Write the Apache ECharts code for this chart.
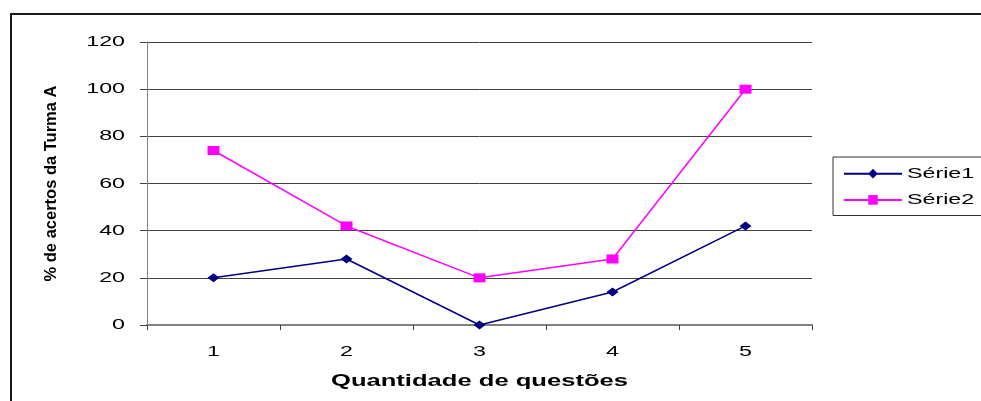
<!DOCTYPE html>
<html>
<head>
<meta charset="utf-8">
<title>% de acertos da Turma A</title>
<script src="https://cdn.jsdelivr.net/npm/echarts@6/dist/echarts.min.js"></script>
<style>
  html, body { margin: 0; padding: 0; background: #fff; }
  #chart { width: 981px; height: 401px; }
</style>
</head>
<body>
<div id="chart"></div>
<script>
// Data
const categories = ['1', '2', '3', '4', '5'];
const serie1 = [20, 28, 0, 14, 42];
const serie2 = [74, 42, 20, 28, 100];
const seriesNames = ['Série1', 'Série2'];
const yMin = 0, yMax = 120, yStep = 20;
const xTitle = 'Quantidade de questões';
const yTitle = '% de acertos da Turma A';

// Horizontal text is drawn in a widened face: glyphs are stretched along x
// around their anchor point, so left/centre/right alignment is preserved.
const TEXT_STRETCH = 1.55;
(function () {
  const proto = CanvasRenderingContext2D.prototype;
  const fill = proto.fillText;
  const measure = proto.measureText;
  proto.fillText = function (text, x, y, maxWidth) {
    const m = this.getTransform();
    if (Math.abs(m.b) > 1e-6 || Math.abs(m.c) > 1e-6) {
      return maxWidth === undefined ? fill.call(this, text, x, y) : fill.call(this, text, x, y, maxWidth);
    }
    this.save();
    this.translate(x, y);
    this.scale(TEXT_STRETCH, 1);
    fill.call(this, text, 0, 0);
    this.restore();
  };
  proto.measureText = function (text) {
    const r = measure.call(this, text);
    return {
      width: r.width * TEXT_STRETCH,
      actualBoundingBoxLeft: r.actualBoundingBoxLeft * TEXT_STRETCH,
      actualBoundingBoxRight: r.actualBoundingBoxRight * TEXT_STRETCH,
      actualBoundingBoxAscent: r.actualBoundingBoxAscent,
      actualBoundingBoxDescent: r.actualBoundingBoxDescent,
      fontBoundingBoxAscent: r.fontBoundingBoxAscent,
      fontBoundingBoxDescent: r.fontBoundingBoxDescent
    };
  };
})();

const FONT = '"Liberation Sans", Arial, sans-serif';
const chart = echarts.init(document.getElementById('chart'), null, { renderer: 'canvas' });

chart.setOption({
  backgroundColor: '#ffffff',
  animation: false,
  textStyle: { fontFamily: FONT, color: '#000' },
  graphic: [{
    type: 'rect',
    shape: { x: 11, y: 14, width: 1100, height: 500 },
    style: { fill: 'none', stroke: '#1a1a1a', lineWidth: 2 },
    silent: true,
    z: 0
  }],
  grid: { left: 147, top: 42, right: 169, bottom: 76 },
  legend: {
    orient: 'vertical',
    left: 833,
    top: 157,
    padding: [5, 20, 4, 10],
    itemGap: 3,
    itemWidth: 58,
    itemHeight: 12,
    borderColor: '#333',
    borderWidth: 1,
    backgroundColor: '#fff',
    textStyle: { fontFamily: FONT, fontSize: 15, color: '#000', lineHeight: 18 },
    data: seriesNames
  },
  xAxis: {
    type: 'category',
    data: categories,
    boundaryGap: true,
    name: xTitle,
    nameLocation: 'middle',
    nameGap: 43,
    nameTextStyle: { fontFamily: FONT, fontSize: 16.5, fontWeight: 'bold', color: '#000' },
    axisLine: { lineStyle: { color: '#808080', width: 2 } },
    axisTick: { show: true, length: 5, lineStyle: { color: '#404040', width: 1 } },
    axisLabel: { fontFamily: FONT, fontSize: 15, color: '#000', margin: 15 },
    splitLine: { show: false }
  },
  yAxis: {
    type: 'value',
    min: yMin,
    max: yMax,
    interval: yStep,
    name: yTitle,
    nameLocation: 'middle',
    nameGap: 82,
    nameRotate: 90,
    nameTextStyle: { fontFamily: FONT, fontSize: 16.5, fontWeight: 'bold', color: '#000' },
    axisLine: { show: true, lineStyle: { color: '#808080', width: 1 } },
    axisTick: { show: true, inside: false, length: 7, lineStyle: { color: '#404040', width: 1 } },
    axisLabel: { fontFamily: FONT, fontSize: 15, color: '#000', margin: 22 },
    splitLine: { show: true, lineStyle: { color: '#404040', width: 1 } }
  },
  series: [
    {
      name: seriesNames[0],
      type: 'line',
      data: serie1,
      symbol: 'diamond',
      symbolSize: [12, 9],
      showAllSymbol: true,
      lineStyle: { color: '#000080', width: 1.5 },
      itemStyle: { color: '#000080' },
      z: 3
    },
    {
      name: seriesNames[1],
      type: 'line',
      data: serie2,
      symbol: 'rect',
      symbolSize: [12, 9],
      showAllSymbol: true,
      lineStyle: { color: '#ff00ff', width: 1.5 },
      itemStyle: { color: '#ff00ff' },
      z: 2
    }
  ]
});
</script>
</body>
</html>
